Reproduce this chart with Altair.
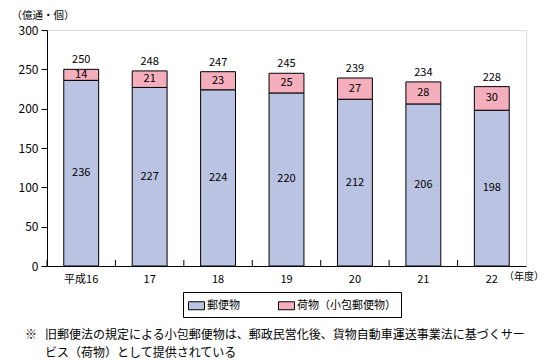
import altair as alt
import pandas as pd

years = ["平成16", "17", "18", "19", "20", "21", "22"]
mail = [236, 227, 224, 220, 212, 206, 198]
parcel = [14, 21, 23, 25, 27, 28, 30]
totals = [250, 248, 247, 245, 239, 234, 228]
series = ["郵便物", "荷物（小包郵便物）"]
colors = ["#BBC3E3", "#F5AEBC"]
y_ticks = [0, 50, 100, 150, 200, 250, 300]
y_title = "（億通・個）"
x_unit = "（年度）"
note_mark = "※"
note_lines = [
    "旧郵便法の規定による小包郵便物は、郵政民営化後、貨物自動車運送事業法に基づくサー",
    "ビス（荷物）として提供されている",
]

FONT = "Noto Sans CJK JP"

rows = []
for i, yr in enumerate(years):
    rows.append({"year": yr, "series": series[0], "value": mail[i], "ord": 0})
    rows.append({"year": yr, "series": series[1], "value": parcel[i], "ord": 1})
long_df = pd.DataFrame(rows)

lab_df = pd.DataFrame({
    "year": years,
    "mail": mail,
    "parcel": parcel,
    "total": totals,
    "mail_mid": [m / 2 for m in mail],
    "parcel_mid": [m + p / 2 for m, p in zip(mail, parcel)],
    "top": [m + p for m, p in zip(mail, parcel)],
})

xband = alt.Scale(paddingInner=0.49, paddingOuter=0.245)
yscale = alt.Scale(domain=[0, 300], nice=False)

x_axis = alt.Axis(title=None, labelAngle=0, ticks=False, labelPadding=7,
                  domainColor="black", labelColor="black", labelFontSize=11,
                  labelFont=FONT)
y_axis = alt.Axis(values=y_ticks, grid=False, tickSize=6, tickColor="black",
                  domainColor="black", labelColor="black", labelFontSize=12,
                  labelPadding=3, labelFont=FONT, labelOverlap=False,
                  title=y_title, titleAngle=0, titleX=-36, titleY=-15,
                  titleAlign="left", titleBaseline="middle", titleFontSize=10.5,
                  titleFontWeight="normal", titleColor="black", titleFont=FONT)

bars = alt.Chart(long_df).mark_bar(stroke="black", strokeWidth=1).encode(
    x=alt.X("year:N", sort=years, scale=xband, axis=x_axis),
    y=alt.Y("value:Q", stack="zero", scale=yscale, axis=y_axis),
    color=alt.Color("series:N", scale=alt.Scale(domain=series, range=colors),
                    legend=alt.Legend(title=None, orient="none", legendX=136, legendY=262,
                                      direction="horizontal", strokeColor="black",
                                      padding=5, symbolType="M-1,-0.5H1V0.5H-1Z",
                                      symbolSize=256, symbolStrokeColor="black",
                                      symbolStrokeWidth=1, symbolOpacity=1,
                                      labelFontSize=11, labelFont=FONT, labelColor="black",
                                      labelOffset=2, columnPadding=36)),
    order=alt.Order("ord:Q"),
)

txt_base = alt.Chart(lab_df).encode(x=alt.X("year:N", sort=years, scale=xband, axis=x_axis))

t_mail = txt_base.mark_text(fontSize=11, font=FONT, color="black", baseline="middle").encode(
    y=alt.Y("mail_mid:Q", scale=yscale, axis=y_axis), text="mail:Q")
t_parcel = txt_base.mark_text(fontSize=11, font=FONT, color="black", baseline="middle").encode(
    y=alt.Y("parcel_mid:Q", scale=yscale, axis=y_axis), text="parcel:Q")
t_total = txt_base.mark_text(fontSize=11, font=FONT, color="black", baseline="bottom", dy=-4).encode(
    y=alt.Y("top:Q", scale=yscale, axis=y_axis), text="total:Q")

main = alt.layer(bars, t_mail, t_parcel, t_total)

ticks = alt.Chart(pd.DataFrame({"year": years})).mark_rule(color="black", strokeWidth=1).encode(
    x=alt.X("year:N", sort=years, scale=alt.Scale(paddingInner=0, paddingOuter=0),
            bandPosition=0, axis=None),
    y=alt.value(236), y2=alt.value(230),
)

unit_txt = alt.Chart(pd.DataFrame({"t": [x_unit]})).mark_text(
    fontSize=10, font=FONT, color="black", align="left", baseline="middle").encode(
    x=alt.value(457), y=alt.value(247), text="t:N")

mark_txt = alt.Chart(pd.DataFrame({"t": [note_mark]})).mark_text(
    fontSize=12, font=FONT, color="black", align="left", baseline="middle").encode(
    x=alt.value(-22), y=alt.value(305), text="t:N")

note_df = pd.DataFrame({"t": note_lines, "k": [0, 1]})
note_txt = alt.Chart(note_df).mark_text(
    fontSize=12, font=FONT, color="black", align="left", baseline="middle").encode(
    x=alt.value(-2),
    y=alt.Y("k:Q", scale=alt.Scale(domain=[0, 1], range=[305, 323]), axis=None),
    text="t:N")

chart = alt.layer(main, ticks, unit_txt, mark_txt, note_txt).resolve_scale(
    x="independent", y="independent"
).properties(
    width=479, height=236,
    autosize=alt.AutoSizeParams(type="none"),
    padding={"left": 39, "top": 22, "right": 17, "bottom": 95},
).configure_view(stroke="black", strokeWidth=1).configure(font=FONT)

chart.save("out.html", embed_options={"renderer": "svg", "actions": False})
